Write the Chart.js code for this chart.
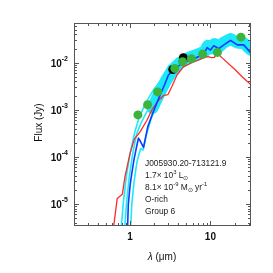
<!DOCTYPE html>
<html>
<head>
<meta charset="utf-8">
<script src="https://cdn.jsdelivr.net/npm/chart.js@4.4.1/dist/chart.umd.min.js"></script>
<style>
  html, body { margin: 0; padding: 0; background: #fff; }
  #sed { display: block; }
</style>
</head>
<body>
<canvas id="sed" width="273" height="273"></canvas>
<script>
// === data ===
const photX = [1.25, 1.65, 2.2, 3.6, 4.5, 5.8, 8.0, 12.2, 24];
const photY = [7.8e-4, 1.28e-3, 2.4e-3, 7.6e-3, 1.05e-2, 1.22e-2, 1.53e-2, 1.66e-2, 3.5e-2];

const wiseX = [3.4, 4.6];
const wiseY = [7.2e-3, 1.28e-2];

// naked star model (red)
const starX = [0.6, 0.69, 0.8, 0.86, 1.0, 1.13, 1.33, 1.62, 1.87, 2.26, 2.6, 2.95, 3.3, 3.83, 4.6, 6.2, 8.0, 9.3, 10.3, 11.2, 12.1, 14, 20, 25, 32];
const starY = [2e-6, 1.3e-5, 1.6e-5, 3.7e-5, 1.2e-4, 2.4e-4, 3.4e-4, 6e-4, 1.0e-3, 1.6e-3, 2.0e-3, 2.1e-3, 3.1e-3, 5.5e-3, 8.2e-3, 1.05e-2, 1.25e-2, 1.35e-2, 1.28e-2, 1.3e-2, 1.6e-2, 1.27e-2, 7.3e-3, 5.0e-3, 3.4e-3];

// best fit model (blue)
const bestX = [0.92, 0.95, 1.0, 1.05, 1.12, 1.2, 1.27, 1.33, 1.47, 1.57, 1.66, 1.87, 2.15, 2.4, 2.7, 3.0, 3.5, 4.6, 6.2, 8.2, 9.1, 10, 11, 12.7, 14.7, 17.8, 21.6, 26, 32];
const bestY = [2e-6, 1e-5, 2.5e-5, 4.5e-5, 9e-5, 1.6e-4, 2.5e-4, 2.2e-4, 1.6e-4, 2.8e-4, 4.4e-4, 7.7e-4, 1.4e-3, 2.2e-3, 3.5e-3, 5.5e-3, 7.3e-3, 1.0e-2, 1.22e-2, 1.5e-2, 2.1e-2, 1.86e-2, 2.3e-2, 2.0e-2, 2.4e-2, 3.0e-2, 2.4e-2, 2.4e-2, 1.6e-2];

// other acceptable models (cyan)
const fitAX = [0.76, 0.82, 0.9, 1.0, 1.15, 1.3, 1.5, 1.7, 2.0, 2.5, 3.0];
const fitAY = [2e-6, 1e-5, 4e-5, 1.2e-4, 3.5e-4, 7e-4, 1.2e-3, 1.8e-3, 2.8e-3, 4.5e-3, 7e-3];
const fitBX = [0.84, 0.9, 0.98, 1.08, 1.2, 1.35, 1.55, 1.8, 2.2, 2.8, 3.4];
const fitBY = [2e-6, 1e-5, 4e-5, 1.2e-4, 3e-4, 5e-4, 8e-4, 1.3e-3, 2.2e-3, 4e-3, 6.5e-3];
const fitCX = [1.0, 1.05, 1.12, 1.22, 1.35, 1.45, 1.6, 1.8, 2.1, 2.6, 3.2];
const fitCY = [2e-6, 1e-5, 3e-5, 8e-5, 1.5e-4, 1.4e-4, 3e-4, 6e-4, 1.2e-3, 2.6e-3, 5e-3];
const bandX = [1.9, 2.3, 2.8, 3.4, 4.2, 5.5, 7.0, 8.5, 9.3, 10.2, 11.2, 12.8, 14.7, 17.8, 21.6, 26, 32];
const bandY = [1.1e-3, 2.2e-3, 4.2e-3, 7.2e-3, 1.0e-2, 1.3e-2, 1.5e-2, 1.75e-2, 2.3e-2, 2.0e-2, 2.5e-2, 2.2e-2, 2.7e-2, 3.2e-2, 2.7e-2, 2.6e-2, 1.9e-2];

const xTickVals = [1, 10];
const xTickLabels = ['1', '10'];
const yTickVals = [1e-5, 1e-4, 1e-3, 1e-2];
const yTickExps = ['-5', '-4', '-3', '-2'];

const infoLines = [
  [{ t: 'J005930.20-713121.9' }],
  [{ t: '1.7\u00d7 10' }, { t: '3', s: 'sup' }, { t: ' L' }, { t: '\u2299', s: 'sub' }],
  [{ t: '8.1\u00d7 10' }, { t: '-9', s: 'sup' }, { t: ' M' }, { t: '\u2299', s: 'sub' }, { t: ' yr' }, { t: '-1', s: 'sup' }],
  [{ t: 'O-rich' }],
  [{ t: 'Group 6' }]
];

const FONT = '"Liberation Sans", Arial, sans-serif';

function pts(xs, ys) {
  return xs.map((x, i) => ({ x: x, y: ys[i] }));
}

function lineSet(xs, ys, color, width, order) {
  return {
    data: pts(xs, ys),
    showLine: true,
    borderColor: color,
    borderWidth: width,
    pointRadius: 0,
    fill: false,
    tension: 0,
    borderJoinStyle: 'round',
    borderCapStyle: 'round',
    order: order
  };
}

function drawRich(ctx, parts, x, y, size) {
  let cx = x;
  parts.forEach(p => {
    let fs = size, dy = 0;
    if (p.s === 'sup') { fs = size * 0.7; dy = -size * 0.45; }
    if (p.s === 'sub') { fs = size * 0.7; dy = size * 0.25; }
    ctx.font = fs + 'px ' + FONT;
    ctx.fillText(p.t, cx, y + dy);
    cx += ctx.measureText(p.t).width;
  });
}

// axes box, inward ticks, labels and the info text
const framePlugin = {
  id: 'frame',
  afterDatasetsDraw(chart) {
    const ctx = chart.ctx;
    const a = chart.chartArea;
    const xs = chart.scales.x, ys = chart.scales.y;
    ctx.save();
    ctx.strokeStyle = '#555';
    ctx.lineWidth = 1;
    ctx.strokeRect(a.left + 0.5, a.top + 0.5, a.right - a.left - 1, a.bottom - a.top - 1);

    ctx.beginPath();
    // x ticks
    for (let d = -1; d <= 1; d++) {
      for (let m = 1; m <= 9; m++) {
        const v = m * Math.pow(10, d);
        if (v < xs.min || v > xs.max) continue;
        const px = Math.round(xs.getPixelForValue(v)) + 0.5;
        const len = m === 1 ? 5 : 3;
        ctx.moveTo(px, a.bottom); ctx.lineTo(px, a.bottom - len);
        ctx.moveTo(px, a.top); ctx.lineTo(px, a.top + len);
      }
    }
    // y ticks
    for (let d = -6; d <= -1; d++) {
      for (let m = 1; m <= 9; m++) {
        const v = m * Math.pow(10, d);
        if (v < ys.min || v > ys.max) continue;
        const py = Math.round(ys.getPixelForValue(v)) + 0.5;
        const len = m === 1 ? 5 : 3;
        ctx.moveTo(a.left, py); ctx.lineTo(a.left + len, py);
        ctx.moveTo(a.right, py); ctx.lineTo(a.right - len, py);
      }
    }
    ctx.stroke();

    ctx.fillStyle = '#111';
    ctx.textBaseline = 'middle';
    // y labels 10^n
    yTickVals.forEach((v, i) => {
      const py = ys.getPixelForValue(v);
      ctx.font = 'bold 7px ' + FONT;
      const ew = ctx.measureText(yTickExps[i]).width;
      const ex = a.left - 6 - ew;
      ctx.textAlign = 'left';
      ctx.fillText(yTickExps[i], ex, py - 4);
      ctx.font = 'bold 10px ' + FONT;
      ctx.textAlign = 'right';
      ctx.fillText('10', ex, py + 1);
    });
    // x labels
    ctx.textAlign = 'center';
    ctx.font = 'bold 10px ' + FONT;
    xTickVals.forEach((v, i) => {
      ctx.fillText(xTickLabels[i], xs.getPixelForValue(v), a.bottom + 11);
    });

    // axis titles
    ctx.font = '10px ' + FONT;
    ctx.save();
    ctx.translate(39, (a.top + a.bottom) / 2 - 2);
    ctx.rotate(-Math.PI / 2);
    ctx.textAlign = 'center';
    ctx.fillText('Flux (Jy)', 0, 0);
    ctx.restore();

    ctx.textAlign = 'left';
    const lam = '\u03bb';
    const rest = ' (\u03bcm)';
    ctx.font = 'italic 10px ' + FONT;
    const w1 = ctx.measureText(lam).width;
    ctx.font = '10px ' + FONT;
    const w2 = ctx.measureText(rest).width;
    const lx = 162 - (w1 + w2) / 2;
    ctx.font = 'italic 10px ' + FONT;
    ctx.fillText(lam, lx, 257);
    ctx.font = '10px ' + FONT;
    ctx.fillText(rest, lx + w1, 257);

    // info block
    ctx.fillStyle = '#222';
    const lineY = [164, 176, 188, 200, 212];
    infoLines.forEach((parts, i) => drawRich(ctx, parts, 145, lineY[i], 8.4));
    ctx.restore();
  }
};

const chart = new Chart(document.getElementById('sed'), {
  type: 'scatter',
  data: {
    datasets: [
      {
        data: pts(photX, photY),
        pointRadius: 4.5,
        pointBackgroundColor: '#3cb43c',
        pointBorderWidth: 0,
        order: 0
      },
      {
        data: pts(wiseX, wiseY),
        pointRadius: 4.5,
        pointBackgroundColor: '#000',
        pointBorderWidth: 0,
        order: 1
      },
      lineSet(bestX, bestY, '#0a3cff', 1.6, 2),
      lineSet(starX, starY, '#ff2a2a', 1.3, 3),
      lineSet(fitAX, fitAY, '#1ee8fa', 1.6, 4),
      lineSet(fitBX, fitBY, '#1ee8fa', 1.6, 5),
      lineSet(fitCX, fitCY, '#1ee8fa', 1.6, 6),
      lineSet(bandX, bandY, '#1ee8fa', 12, 7)
    ]
  },
  options: {
    responsive: false,
    animation: false,
    layout: { padding: { left: 74, right: 22, top: 23, bottom: 47 } },
    plugins: { legend: { display: false }, tooltip: { enabled: false } },
    scales: {
      x: { type: 'logarithmic', min: 0.2, max: 32, display: false },
      y: { type: 'logarithmic', min: 3.4e-6, max: 0.07, display: false }
    }
  },
  plugins: [framePlugin]
});
</script>
</body>
</html>
